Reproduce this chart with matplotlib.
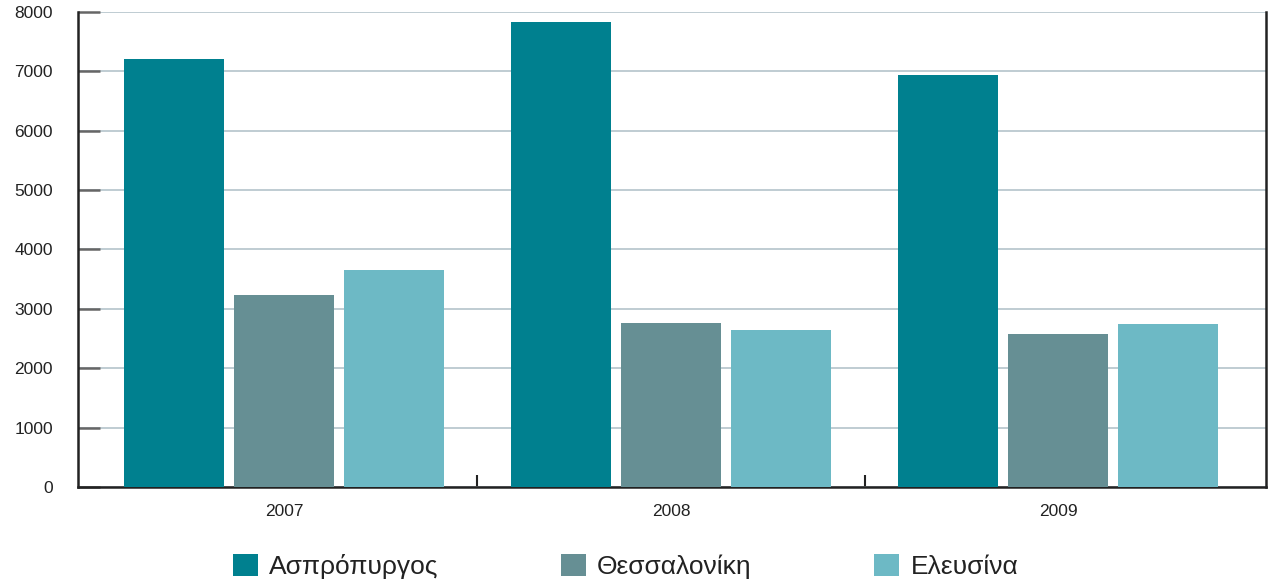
import matplotlib.pyplot as plt
import numpy as np
from matplotlib.patches import Patch

plt.rcParams['font.family'] = ['Liberation Sans', 'DejaVu Sans']

years = ['2007', '2008', '2009']
series_names = ['Ασπρόπυργος', 'Θεσσαλονίκη', 'Ελευσίνα']
aspropyrgos = [7210, 7830, 6940]
thessaloniki = [3230, 2760, 2575]
elefsina = [3650, 2640, 2745]
colors = ['#00808f', '#668f94', '#6db9c5']

fig = plt.figure(figsize=(12.7, 5.87), dpi=100)
ax = fig.add_axes([0.0614, 0.1704, 0.9355, 0.8092])

x = np.arange(len(years))
width = 0.258
step = 0.284
for i, vals in enumerate([aspropyrgos, thessaloniki, elefsina]):
    ax.bar(x + (i - 1) * step, vals, width, color=colors[i], zorder=3)

ax.set_xlim(-0.532, 2.537)
ax.set_ylim(0, 8000)
ax.set_yticks(range(0, 8001, 1000))
ax.yaxis.grid(True, color='#b4c3cb', linewidth=1.2, zorder=0)

# group separators as major ticks, labels on minor ticks
ax.set_xticks([0.5, 1.5])
ax.set_xticklabels([])
ax.set_xticks(x, minor=True)
ax.set_xticklabels(years, minor=True)
ax.tick_params(axis='x', which='major', direction='in', length=9, width=1.5, color='#222222')
ax.tick_params(axis='x', which='minor', length=0, pad=12, labelsize=12.5, labelcolor='#222222')
ax.tick_params(axis='y', direction='in', length=16, width=1.8, color='#666666',
               pad=18, labelsize=12.5, labelcolor='#222222')

ax.spines['top'].set_visible(False)
for s in ['left', 'bottom', 'right']:
    ax.spines[s].set_linewidth(1.8)
    ax.spines[s].set_color('#222222')

handles = [Patch(facecolor=c, edgecolor='none') for c in colors]
fig.legend(handles, series_names, loc='center', bbox_to_anchor=(0.4925, 0.035),
           ncol=3, frameon=False, fontsize=19, handlelength=0.95, handleheight=0.95,
           handletextpad=0.42, columnspacing=4.65, labelcolor='#222222')

fig.savefig('out.png', dpi=100)
